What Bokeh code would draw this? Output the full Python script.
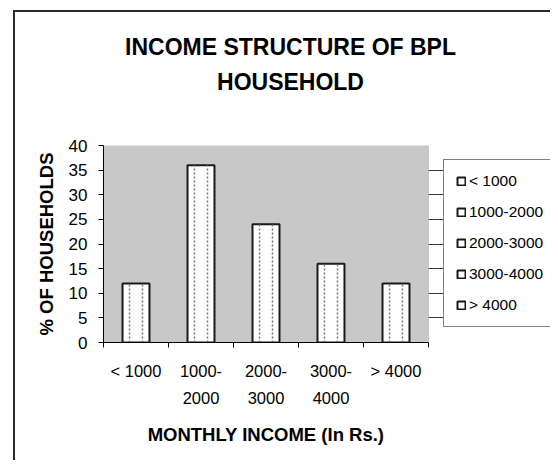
from bokeh.plotting import figure
from bokeh.models import (Range1d, FixedTicker, Legend, LegendItem, LinearAxis,
                          BoxAnnotation, ColumnDataSource)
from bokeh.embed import file_html
from bokeh.resources import INLINE

# ---- data ----
categories = ["< 1000", "1000-2000", "2000-3000", "3000-4000", "> 4000"]
tick_labels = ["< 1000", "1000-\n2000", "2000-\n3000", "3000-\n4000", "> 4000"]
households_pct = [12, 36, 24, 16, 12]
y_ticks = [0, 5, 10, 15, 20, 25, 30, 35, 40]
title_text = "INCOME STRUCTURE OF BPL\nHOUSEHOLD"
x_title = "MONTHLY INCOME (In Rs.)"
y_title = "% OF HOUSEHOLDS"

FONT = "Liberation Sans"
TITLE_X = 2.877        # horizontal anchor of the chart title, in category units
X_END = 6.877          # plot area spans 0..5; the rest holds the legend

n = len(categories)
centers = [i + 0.5 for i in range(n)]
bounds = [float(i) for i in range(n + 1)]
y_max = y_ticks[-1]

p = figure(width=550, height=460, x_range=Range1d(0, X_END),
           y_range=Range1d(0, y_max), output_backend="svg", toolbar_location=None,
           min_border_left=103, min_border_right=0, min_border_top=145,
           min_border_bottom=118, title=None)
# outer chart border (top and left edges only), painted behind a transparent canvas
p.styles = {"box-shadow": "inset 13px 10px 0 0 white, inset 15px 12px 0 0 #2b2b2b"}
p.border_fill_color = None
p.background_fill_color = None
p.outline_line_color = None

# grey plot area with its thin grey border
p.add_layout(BoxAnnotation(left=0, right=n, bottom=0, top=y_max,
                           fill_color="#c8c8c8", fill_alpha=1,
                           line_color="#8a8a8a", line_width=1, level="underlay"))

p.xgrid.visible = False
p.ygrid.grid_line_color = "#3a3a3a"
p.ygrid.grid_line_width = 1
p.ygrid.ticker = FixedTicker(ticks=y_ticks)
p.ygrid.bounds = (0, n)

src = ColumnDataSource(dict(x=centers, top=households_pct, cat=categories,
                            xl=[c - 0.1 for c in centers],
                            xr=[c + 0.1 for c in centers],
                            y0=[0] * n))

bars = p.vbar(x="x", top="top", width=0.415, source=src, fill_color="white",
              line_color="#1a1a1a", line_width=2)
p.segment(x0="xl", y0="y0", x1="xl", y1="top", source=src, line_color="#777777",
          line_width=1.5, line_dash="2 2")
p.segment(x0="xr", y0="y0", x1="xr", y1="top", source=src, line_color="#777777",
          line_width=1.5, line_dash="2 2")

# y axis
yax = p.yaxis[0]
yax.ticker = FixedTicker(ticks=y_ticks)
yax.axis_line_color = "black"
yax.major_tick_line_color = "black"
yax.major_tick_out = 5
yax.major_tick_in = 0
yax.minor_tick_line_color = None
yax.major_label_text_font = FONT
yax.major_label_text_font_size = "17px"
yax.major_label_text_color = "black"
yax.major_label_standoff = 11
yax.axis_label = y_title
yax.axis_label_text_font = FONT
yax.axis_label_text_font_style = "bold"
yax.axis_label_text_font_size = "18.5px"
yax.axis_label_text_color = "black"
yax.axis_label_standoff = 9

# x axis (category labels, boundary ticks)
xax = p.xaxis[0]
xax.bounds = (0, n)
xax.ticker = FixedTicker(ticks=centers, minor_ticks=bounds)
xax.major_label_overrides = {c: t for c, t in zip(centers, tick_labels)}
xax.axis_line_color = "black"
xax.major_tick_line_color = None
xax.major_tick_out = 0
xax.major_tick_in = 0
xax.minor_tick_line_color = "black"
xax.minor_tick_out = 5
xax.minor_tick_in = 0
xax.major_label_text_font = FONT
xax.major_label_text_font_size = "16.5px"
xax.major_label_text_color = "black"
xax.major_label_text_line_height = 1.5
xax.major_label_standoff = 14

# x axis title, centred under the plot area
xt = LinearAxis(ticker=FixedTicker(ticks=[n / 2]),
                major_label_overrides={n / 2: x_title},
                axis_line_color=None, major_tick_line_color=None,
                minor_tick_line_color=None, major_tick_out=0, major_tick_in=0,
                major_label_text_font=FONT, major_label_text_font_style="bold",
                major_label_text_font_size="18.5px", major_label_text_color="black",
                major_label_standoff=14)
p.add_layout(xt, "below")

# chart title, drawn as the single label of a bare axis above the plot area
tax = LinearAxis(ticker=FixedTicker(ticks=[TITLE_X]),
                 major_label_overrides={TITLE_X: title_text},
                 axis_line_color=None, major_tick_line_color=None,
                 minor_tick_line_color=None, major_tick_out=0, major_tick_in=0,
                 major_label_text_font=FONT, major_label_text_font_style="bold",
                 major_label_text_font_size="23px", major_label_text_color="black",
                 major_label_text_line_height=1.33, major_label_standoff=51)
p.add_layout(tax, "above")

# legend
items = [LegendItem(label=c, renderers=[bars], index=i) for i, c in enumerate(categories)]
legend = Legend(items=items, location=(340, 15), orientation="vertical",
                label_text_font=FONT, label_text_font_size="15.5px",
                label_text_color="black", glyph_width=10, glyph_height=10,
                label_standoff=3, spacing=13, padding=12, margin=0,
                border_line_color="black", border_line_width=1,
                background_fill_color="white", background_fill_alpha=1)
p.add_layout(legend)

open("out.html", "w").write(file_html(p, INLINE))
